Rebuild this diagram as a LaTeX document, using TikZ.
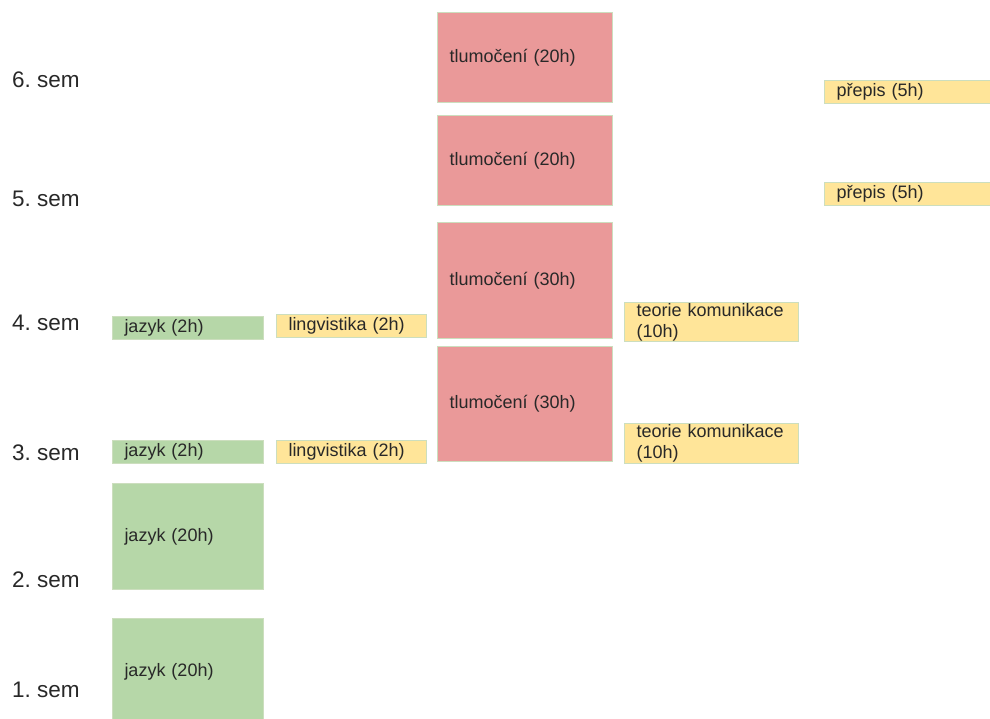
\documentclass[tikz,border=0pt]{standalone}
\usepackage{fontspec}
\setmainfont{Liberation Sans}
\usepackage{tikz}
\frenchspacing

\definecolor{jazykgreen}{RGB}{182,215,168}
\definecolor{lingyellow}{RGB}{255,229,153}
\definecolor{tlumred}{RGB}{234,153,153}
\definecolor{boxline}{RGB}{204,222,190}
\definecolor{inkgray}{RGB}{40,40,40}

\begin{document}
\begin{tikzpicture}[x=1pt,y=-1pt,
    course/.style={draw=boxline, line width=1pt, anchor=north west, align=left,
      inner xsep=12pt, inner ysep=0pt, text=inkgray,
      font=\fontsize{18}{21}\selectfont},
    green/.style={course, fill=jazykgreen},
    yellow/.style={course, fill=lingyellow},
    red/.style={course, fill=tlumred},
    semlabel/.style={anchor=west, inner sep=0pt, text=inkgray,
      font=\fontsize{22.5}{26}\selectfont}]
  \useasboundingbox (0,0) rectangle (990,719);

  % semesters
  \node[semlabel] (sem6) at (12,80) {6. sem};
  \node[semlabel] (sem5) at (12,199) {5. sem};
  \node[semlabel] (sem4) at (12,323) {4. sem};
  \node[semlabel] (sem3) at (12,453) {3. sem};
  \node[semlabel] (sem2) at (12,580) {2. sem};
  \node[semlabel] (sem1) at (12,690) {1. sem};

  % jazyk
  \node[green, text width=127pt, minimum height=106pt] (jazyk1) at (112,618) {jazyk (20h)};
  \node[green, text width=127pt, minimum height=106pt] (jazyk2) at (112,483) {jazyk (20h)};
  \node[green, text width=127pt, minimum height=23pt] (jazyk3) at (112,440) {jazyk (2h)};
  \node[green, text width=127pt, minimum height=23pt] (jazyk4) at (112,316) {jazyk (2h)};

  % lingvistika
  \node[yellow, text width=126pt, minimum height=23pt] (ling3) at (276,440) {lingvistika (2h)};
  \node[yellow, text width=126pt, minimum height=23pt] (ling4) at (276,314) {lingvistika (2h)};

  % tlumoceni
  \node[red, text width=151pt, minimum height=115pt] (tlum3) at (437,346) {tlumočení (30h)};
  \node[red, text width=151pt, minimum height=116pt] (tlum4) at (437,222) {tlumočení (30h)};
  \node[red, text width=151pt, minimum height=90pt] (tlum5) at (437,115) {tlumočení (20h)};
  \node[red, text width=151pt, minimum height=90pt] (tlum6) at (437,12) {tlumočení (20h)};

  % teorie komunikace
  \node[yellow, text width=150pt, minimum height=40pt] (teorie3) at (624,423) {teorie komunikace\\(10h)};
  \node[yellow, text width=150pt, minimum height=39pt] (teorie4) at (624,302) {teorie komunikace\\(10h)};

  % prepis
  \node[yellow, text width=146pt, minimum height=23pt] (prepis5) at (824,182) {přepis (5h)};
  \node[yellow, text width=146pt, minimum height=23pt] (prepis6) at (824,80) {přepis (5h)};
\end{tikzpicture}
\end{document}
